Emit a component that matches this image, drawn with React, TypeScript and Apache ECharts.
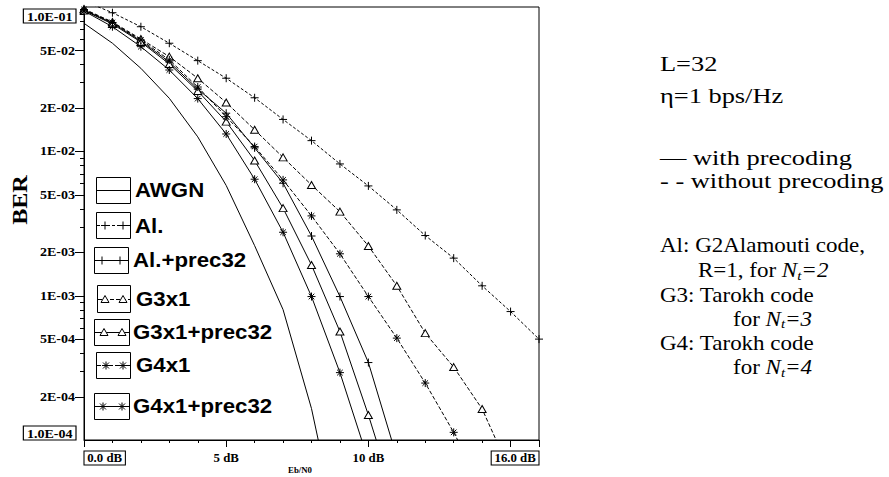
import React, { useEffect, useRef } from 'react';
import * as echarts from 'echarts';

// ---- data ----
const ebn0 = [0, 1, 2, 3, 4, 5, 6, 7, 8, 9, 10, 11, 12, 13, 14, 15, 16];

const awgnBer = [0.0771, 0.0561, 0.0376, 0.0233, 0.0126, 0.0058, 0.00222, 0.0008, 0.000165, 0.00002];
const alBer = [0.11, 0.0913, 0.073, 0.0561, 0.0425, 0.0321, 0.0235, 0.01663, 0.01186, 0.00818, 0.00576, 0.00393, 0.00261, 0.00182, 0.00117, 0.000776, 0.0005];
const alPrecBer = [0.0953, 0.0775, 0.0581, 0.0416, 0.027, 0.01837, 0.01057, 0.00601, 0.00259, 0.000986, 0.000344, 0.000076];
const g3Ber = [0.0969, 0.0787, 0.06, 0.0453, 0.0321, 0.0218, 0.0141, 0.00908, 0.00585, 0.00382, 0.00221, 0.00117, 0.00055, 0.00032, 0.000164, 0.00006];
const g3PrecBer = [0.0946, 0.0763, 0.0572, 0.0403, 0.0262, 0.01607, 0.00863, 0.00404, 0.00163, 0.000564, 0.000149, 0.000035];
const g4Ber = [0.0961, 0.0781, 0.0591, 0.043, 0.0279, 0.01738, 0.01079, 0.00634, 0.00357, 0.00195, 0.000986, 0.000508, 0.000248, 0.000113, 0.000047];
const g4PrecBer = [0.0938, 0.073, 0.0531, 0.0366, 0.0232, 0.01319, 0.00641, 0.00275, 0.000986, 0.000293, 0.000072];

const yTickValues = [1e-1, 5e-2, 2e-2, 1e-2, 5e-3, 2e-3, 1e-3, 5e-4, 2e-4, 1e-4];
const yTickLabels = ['1.0E-01', '5E-02', '2E-02', '1E-02', '5E-03', '2E-03', '1E-03', '5E-04', '2E-04', '1.0E-04'];
const xTickValues = [0, 5, 10, 16];
const xTickLabels = ['0.0 dB', '5 dB', '10 dB', '16.0 dB'];

const SERIF = '"Liberation Serif", "Times New Roman", serif';
const SANS = '"Liberation Sans", Arial, sans-serif';

const PLUS = 'path://M0,5L10,5M5,0L5,10';
const STAR = 'path://M5,0L5,10M0,5L10,5M1.5,1.5L8.5,8.5M1.5,8.5L8.5,1.5';

type Mark = 'plus' | 'tri' | 'star' | null;

const seriesDefs: { name: string; vals: number[]; dash: number[] | null; mark: Mark }[] = [
  { name: 'AWGN', vals: awgnBer, dash: null, mark: null },
  { name: 'Al.', vals: alBer, dash: [3, 2], mark: 'plus' },
  { name: 'Al.+prec32', vals: alPrecBer, dash: null, mark: 'plus' },
  { name: 'G3x1', vals: g3Ber, dash: [4, 2], mark: 'tri' },
  { name: 'G3x1+prec32', vals: g3PrecBer, dash: null, mark: 'tri' },
  { name: 'G4x1', vals: g4Ber, dash: [4, 2], mark: 'star' },
  { name: 'G4x1+prec32', vals: g4PrecBer, dash: null, mark: 'star' },
];

const legendRows = [
  { label: 'AWGN', bx: 96, by: 177, bw: 34, bh: 26, tx: 135, ty: 190, dash: null as number[] | null, mark: null as Mark, mx: [0, 0] },
  { label: 'Al.', bx: 96, by: 212, bw: 34, bh: 26, tx: 135, ty: 226, dash: [3, 2], mark: 'plus' as Mark, mx: [105, 123] },
  { label: 'Al.+prec32', bx: 94, by: 247, bw: 34, bh: 26, tx: 133, ty: 260, dash: null, mark: 'plus' as Mark, mx: [102, 120] },
  { label: 'G3x1', bx: 97, by: 285, bw: 33, bh: 27, tx: 136, ty: 299, dash: [4, 2], mark: 'tri' as Mark, mx: [105, 123] },
  { label: 'G3x1+prec32', bx: 94, by: 319, bw: 35, bh: 26, tx: 133, ty: 332, dash: null, mark: 'tri' as Mark, mx: [104, 122] },
  { label: 'G4x1', bx: 96, by: 352, bw: 34, bh: 26, tx: 136, ty: 365, dash: [4, 2], mark: 'star' as Mark, mx: [106, 123] },
  { label: 'G4x1+prec32', bx: 94, by: 393, bw: 35, bh: 26, tx: 133, ty: 406, dash: null, mark: 'star' as Mark, mx: [103, 122] },
];

function markerGraphic(kind: Mark, cx: number, cy: number): any[] {
  const st = { stroke: '#000', lineWidth: 1 };
  if (kind === 'plus') {
    return [
      { type: 'line', silent: true, shape: { x1: cx - 4, y1: cy, x2: cx + 4, y2: cy }, style: st },
      { type: 'line', silent: true, shape: { x1: cx, y1: cy - 4, x2: cx, y2: cy + 4 }, style: st },
    ];
  }
  if (kind === 'tri') {
    return [
      { type: 'polygon', silent: true, shape: { points: [[cx, cy - 4], [cx - 4, cy + 3], [cx + 4, cy + 3]] }, style: { fill: '#fff', stroke: '#000', lineWidth: 1 } },
    ];
  }
  if (kind === 'star') {
    return [
      { type: 'line', silent: true, shape: { x1: cx - 4, y1: cy, x2: cx + 4, y2: cy }, style: st },
      { type: 'line', silent: true, shape: { x1: cx, y1: cy - 4, x2: cx, y2: cy + 4 }, style: st },
      { type: 'line', silent: true, shape: { x1: cx - 3, y1: cy - 3, x2: cx + 3, y2: cy + 3 }, style: st },
      { type: 'line', silent: true, shape: { x1: cx - 3, y1: cy + 3, x2: cx + 3, y2: cy - 3 }, style: st },
    ];
  }
  return [];
}

function buildGraphic(chart: any): any[] {
  const px = (v: number) => chart.convertToPixel({ xAxisIndex: 0 }, v) as number;
  const py = (v: number) => chart.convertToPixel({ yAxisIndex: 0 }, v) as number;
  const g: any[] = [];
  const x0 = px(0);

  // y ticks (log minor ticks 2..9 per decade)
  for (let k = -4; k <= -2; k++) {
    for (let m = 1; m <= 9; m++) {
      const v = m * Math.pow(10, k);
      if (k === -4 && m === 1) continue;
      const major = m === 1 || m === 2 || m === 5;
      const y = Math.round(py(v)) + 0.5;
      g.push({ type: 'line', silent: true, shape: { x1: x0 - (major ? 9 : 4), y1: y, x2: x0, y2: y }, style: { stroke: '#000', lineWidth: 1 } });
    }
  }

  // y tick labels
  yTickValues.forEach((v, i) => {
    const boxed = i === 0 || i === yTickValues.length - 1;
    const y = py(v);
    g.push({
      type: 'text', silent: true,
      x: boxed ? 76 : 75,
      y: i === 0 ? y + 2 : y,
      scaleX: 1.17,
      style: {
        text: yTickLabels[i], fill: '#000', fontFamily: SERIF, fontWeight: 'bold', fontSize: 12,
        align: 'right', verticalAlign: i === 0 ? 'top' : boxed ? 'bottom' : 'middle',
        ...(boxed ? { borderColor: '#000', borderWidth: 1, padding: [1, 3, 0, 3], lineHeight: 13 } : {}),
      },
    });
  });

  // x tick labels
  xTickValues.forEach((v, i) => {
    const boxed = i === 0 || i === xTickValues.length - 1;
    g.push({
      type: 'text', silent: true,
      x: px(v), y: 458,
      scaleX: 1.07,
      style: {
        text: xTickLabels[i], fill: '#000', fontFamily: SERIF, fontWeight: 'bold', fontSize: 12,
        align: i === 0 ? 'left' : i === xTickValues.length - 1 ? 'right' : 'center', verticalAlign: 'middle',
        ...(boxed ? { borderColor: '#000', borderWidth: 1, padding: [1, 3, 0, 3], lineHeight: 13 } : {}),
      },
    });
  });

  // axis names
  g.push({ type: 'text', silent: true, x: 300, y: 471, scaleX: 1.1, style: { text: 'Eb/N0', fill: '#000', fontFamily: SERIF, fontWeight: 'bold', fontSize: 8, align: 'center', verticalAlign: 'middle' } });
  g.push({ type: 'text', silent: true, x: 20, y: 200, rotation: Math.PI / 2, scaleX: 1.15, style: { text: 'BER', fill: '#000', fontFamily: SERIF, fontWeight: 'bold', fontSize: 21, align: 'center', verticalAlign: 'middle' } });

  // legend
  legendRows.forEach((r) => {
    g.push({ type: 'rect', silent: true, shape: { x: r.bx + 0.5, y: r.by + 0.5, width: r.bw, height: r.bh }, style: { fill: 'none', stroke: '#000', lineWidth: 1 } });
    const cy = Math.round(r.by + r.bh / 2) + 0.5;
    g.push({ type: 'line', silent: true, shape: { x1: r.bx + 1, y1: cy, x2: r.bx + r.bw, y2: cy }, style: { stroke: '#000', lineWidth: 1, lineDash: r.dash || null } });
    if (r.mark) {
      r.mx.forEach((mx) => g.push(...markerGraphic(r.mark, mx, cy)));
    }
    g.push({ type: 'text', silent: true, x: r.tx, y: r.ty, scaleX: 1.06, style: { text: r.label, fill: '#000', fontFamily: SANS, fontWeight: 'bold', fontSize: 21, align: 'left', verticalAlign: 'middle' } });
  });

  // annotations on the right
  const big = { fill: '#000', fontFamily: SERIF, fontSize: 22, lineHeight: 24, align: 'left', verticalAlign: 'middle' };
  const small = { fill: '#000', fontFamily: SERIF, fontSize: 20, lineHeight: 22, align: 'left', verticalAlign: 'middle' };
  const rich = {
    a: { fontFamily: SERIF, fontSize: 20, lineHeight: 22, fill: '#000' },
    i: { fontFamily: SERIF, fontSize: 20, lineHeight: 22, fontStyle: 'italic', fill: '#000' },
    s: { fontFamily: SERIF, fontSize: 13, lineHeight: 9, fontStyle: 'italic', verticalAlign: 'bottom', fill: '#000' },
  };
  const topNotes: [number, number, string][] = [
    [660, 63, 'L=32'],
    [660, 95, 'η=1 bps/Hz'],
    [660, 157, '— with precoding'],
    [660, 180.5, '- - without precoding'],
  ];
  topNotes.forEach(([x, y, t]) => g.push({ type: 'text', silent: true, x, y, scaleX: 1.2, style: { ...big, text: t } }));
  const notes: [number, number, string][] = [
    [660, 246, 'Al: G2Alamouti code,'],
    [660, 295.5, 'G3: Tarokh code'],
    [660, 344, 'G4: Tarokh code'],
  ];
  notes.forEach(([x, y, t]) => g.push({ type: 'text', silent: true, x, y, scaleX: 1.15, style: { ...small, text: t } }));
  const subs: [number, number, string, string][] = [
    [698, 271, 'R=1, for ', '2'],
    [733, 319.5, 'for ', '3'],
    [733, 368, 'for ', '4'],
  ];
  subs.forEach(([x, y, pre, n]) =>
    g.push({ type: 'text', silent: true, x, y, scaleX: 1.15, style: { ...small, text: `{a|${pre}}{i|N}{s|t}{i|=${n}}`, rich } })
  );
  return g;
}

export default function App() {
  const ref = useRef<HTMLDivElement>(null);
  useEffect(() => {
    if (!ref.current) return;
    const chart = echarts.init(ref.current, null, { renderer: 'svg' });
    const series = seriesDefs.map((d) => ({
      type: 'line',
      name: d.name,
      data: d.vals.map((v, i) => [ebn0[i], v]),
      symbol: d.mark === 'plus' ? PLUS : d.mark === 'star' ? STAR : d.mark === 'tri' ? 'triangle' : 'none',
      symbolSize: d.mark === 'tri' ? [8, 7] : 8,
      showSymbol: !!d.mark,
      clip: true,
      silent: true,
      lineStyle: { color: '#000', width: 1, type: d.dash ? d.dash : 'solid' },
      itemStyle: { color: d.mark === 'tri' ? '#fff' : 'transparent', borderColor: '#000', borderWidth: 1 },
      emphasis: { disabled: true },
    }));
    chart.setOption({
      animation: false,
      backgroundColor: '#fff',
      grid: { left: 84, right: 350, top: 7, bottom: 37, show: true, borderColor: '#000', borderWidth: 1, containLabel: false, outerBoundsMode: 'none' },
      xAxis: [
        {
          type: 'value', min: 0, max: 16, interval: 1, position: 'bottom',
          axisLine: { show: true, lineStyle: { color: '#000', width: 1 } },
          axisTick: { show: true, length: 3, lineStyle: { color: '#000' } },
          axisLabel: { show: false }, splitLine: { show: false },
        },
        {
          type: 'value', min: 0, max: 16, interval: 5, position: 'bottom',
          axisLine: { show: false },
          axisTick: { show: true, length: 7, lineStyle: { color: '#000' } },
          axisLabel: { show: false }, splitLine: { show: false },
        },
      ],
      yAxis: {
        type: 'log', logBase: 10, min: 0.0001, max: 0.1,
        axisLine: { show: true, lineStyle: { color: '#000', width: 1 } },
        axisTick: { show: false }, axisLabel: { show: false }, splitLine: { show: false }, minorTick: { show: false },
      },
      series,
    });
    chart.setOption({ graphic: buildGraphic(chart) });
    return () => chart.dispose();
  }, []);
  return <div ref={ref} style={{ position: 'absolute', left: 0, top: 0, width: 889, height: 477, background: '#fff' }} />;
}
